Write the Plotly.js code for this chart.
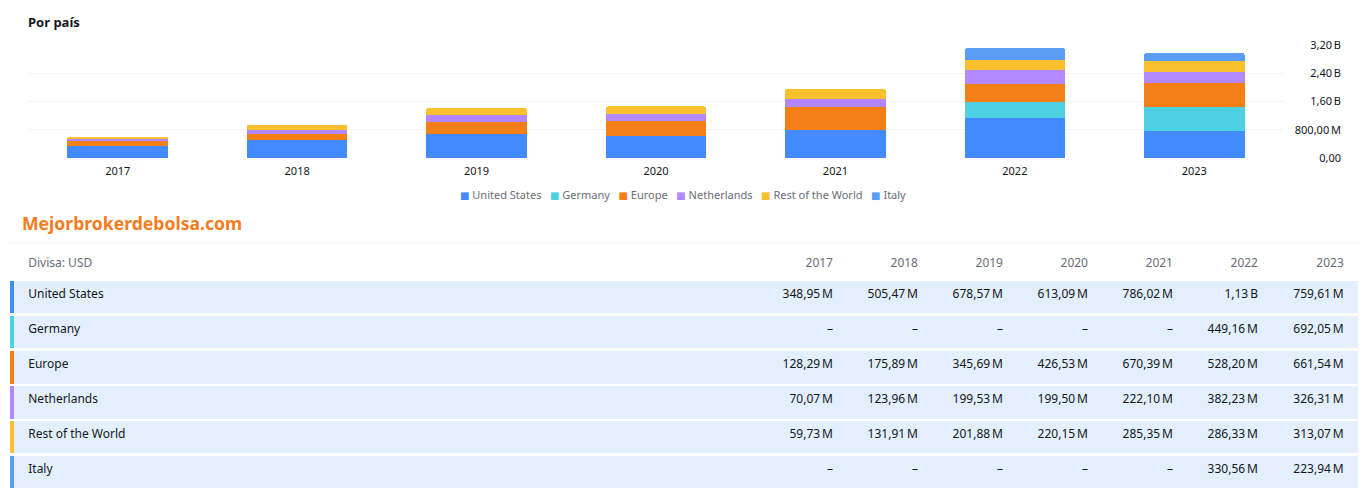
<!DOCTYPE html>
<html>
<head>
<meta charset="utf-8">
<script src="https://cdn.plot.ly/plotly-3.0.1.min.js"></script>
<style>
  html, body { margin: 0; padding: 0; background: #fff; }
  #chart { width: 1362px; height: 492px; }
</style>
</head>
<body>
<div id="chart"></div>
<script>
// data, values in millions of USD
const years = ['2017', '2018', '2019', '2020', '2021', '2022', '2023'];
const seriesNames = ['United States', 'Germany', 'Europe', 'Netherlands', 'Rest of the World', 'Italy'];
const seriesColors = ['#448aff', '#4dd0e1', '#f57f17', '#b388ff', '#fbc02d', '#5b9cf6'];

const unitedStates = [348.95, 505.47, 678.57, 613.09, 786.02, 1130, 759.61];
const germany      = [null, null, null, null, null, 449.16, 692.05];
const europe       = [128.29, 175.89, 345.69, 426.53, 670.39, 528.20, 661.54];
const netherlands  = [70.07, 123.96, 199.53, 199.50, 222.10, 382.23, 326.31];
const restOfWorld  = [59.73, 131.91, 201.88, 220.15, 285.35, 286.33, 313.07];
const italy        = [null, null, null, null, null, 330.56, 223.94];

const yTickVals = [0, 800e6, 1600e6, 2400e6, 3200e6];
const yTickText = ['0,00', '800,00\u2009M', '1,60\u2009B', '2,40\u2009B', '3,20\u2009B'];

const series = [unitedStates, germany, europe, netherlands, restOfWorld, italy];

const W = 1362, H = 492;
const px = x => x / W;
const py = y => 1 - y / H;

function fmt(v) {
    if (v === null) return '\u2013';
    if (v >= 1000) return (v / 1000).toFixed(2).replace('.', ',') + '\u2009B';
    return v.toFixed(2).replace('.', ',') + '\u2009M';
}

const font = '"Noto Sans", "DejaVu Sans", sans-serif';
const rowBg = '#e3effd';

// stacked bars
const traces = series.map((vals, i) => ({
    type: 'bar',
    name: seriesNames[i],
    x: years,
    y: vals.map(v => v === null ? null : v * 1e6),
    marker: { color: seriesColors[i] },
    hoverinfo: 'skip',
    showlegend: false
}));

// table below the chart, one table trace per row so rows get a white gap
const colWidths = [4, 742, 85, 85, 85, 85, 85, 85, 92];
const nCols = colWidths.length;
const aligns = ['left', 'left'].concat(years.map(() => 'right'));
const suffixes = new Array(nCols).fill('');
suffixes[nCols - 1] = '\u00a0\u00a0';
const tableX = [px(10), px(1358)];

traces.push({
    type: 'table',
    domain: { x: tableX, y: [py(280), py(250)] },
    columnwidth: colWidths,
    header: {
        values: ['', '\u00a0\u00a0Divisa: USD'].concat(years),
        align: aligns,
        suffix: suffixes,
        height: 30,
        fill: { color: '#ffffff' },
        line: { color: '#ffffff', width: 0 },
        font: { family: font, size: 12, color: '#6a6d78' }
    },
    cells: { values: [] }
});

const rowTop = 281, rowStep = 35, rowH = 33;
seriesNames.forEach((name, r) => {
    const vals = [[''], ['\u00a0\u00a0' + name]].concat(years.map((y, j) => [fmt(series[r][j])]));
    const fills = [seriesColors[r]].concat(new Array(nCols - 1).fill(rowBg));
    const top = rowTop + r * rowStep;
    traces.push({
        type: 'table',
        domain: { x: tableX, y: [py(top + rowH), py(top)] },
        columnwidth: colWidths,
        header: {
            values: vals,
            align: aligns,
            suffix: suffixes,
            height: rowH,
            fill: { color: fills },
            line: { color: fills, width: 0 },
            font: { family: font, size: 12, color: '#131722' }
        },
        cells: { values: [] }
    });
});

// legend built from the series names
const legendText = seriesNames.map((n, i) =>
    '<span style="color:' + seriesColors[i] + ';font-size:10px">\u25a0</span>\u00a0' + n
).join('\u00a0\u00a0\u00a0');

const layout = {
    width: W,
    height: H,
    margin: { l: 0, r: 0, t: 0, b: 0 },
    paper_bgcolor: '#ffffff',
    plot_bgcolor: '#ffffff',
    font: { family: font, size: 11, color: '#131722' },
    barmode: 'stack',
    bargap: 0.44,
    barcornerradius: 2,
    showlegend: false,
    title: {
        text: '<b>Por país</b>',
        x: px(28), xanchor: 'left', xref: 'paper',
        y: py(22), yanchor: 'middle', yref: 'paper',
        font: { family: font, size: 13, color: '#131722' }
    },
    xaxis: {
        type: 'category',
        domain: [px(28), px(1284)],
        showgrid: false,
        showline: false,
        zeroline: false,
        ticks: '',
        ticklabelstandoff: 5,
        tickfont: { size: 11, color: '#131722' },
        fixedrange: true
    },
    yaxis: {
        domain: [py(158), py(45)],
        range: [0, 3200e6],
        anchor: 'free',
        position: px(1341),
        side: 'left',
        tickvals: yTickVals,
        ticktext: yTickText,
        showgrid: true,
        gridcolor: '#f0f3fa',
        zeroline: false,
        showline: false,
        ticks: '',
        tickfont: { size: 11, color: '#131722' },
        fixedrange: true
    },
    shapes: [{
        type: 'line', xref: 'paper', yref: 'paper',
        x0: px(10), x1: px(1358), y0: py(243), y1: py(243),
        line: { color: '#f0f3fa', width: 1 }
    }],
    annotations: [{
        text: legendText,
        xref: 'paper', yref: 'paper',
        x: px(683), y: py(194), xanchor: 'center', yanchor: 'middle',
        showarrow: false,
        font: { family: font, size: 11, color: '#6a6d78' }
    }, {
        text: '<b>Mejorbrokerdebolsa.com</b>',
        xref: 'paper', yref: 'paper',
        x: px(20), y: py(223), xanchor: 'left', yanchor: 'middle',
        showarrow: false,
        font: { family: font, size: 17.6, color: '#f47c20' }
    }]
};

Plotly.newPlot('chart', traces, layout, { displayModeBar: false, staticPlot: true });
</script>
</body>
</html>
